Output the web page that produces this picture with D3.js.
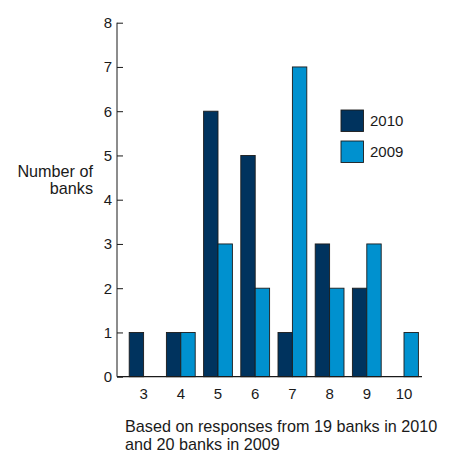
<!DOCTYPE html>
<html>
<head>
<meta charset="utf-8">
<script src="https://cdn.jsdelivr.net/npm/d3@7/dist/d3.min.js"></script>
<style>
  html, body { margin: 0; padding: 0; background: #fff; }
  svg { display: block; font-family: "Liberation Sans", Arial, Helvetica, sans-serif; }
</style>
</head>
<body>
<svg id="chart" width="454" height="454"></svg>
<script>
// Number of banks by score, two survey years
const categories = ["3", "4", "5", "6", "7", "8", "9", "10"];
const values2010 = [1, 1, 6, 5, 1, 3, 2, 0];
const values2009 = [0, 1, 3, 2, 7, 2, 3, 1];
const seriesNames = ["2010", "2009"];
const seriesColors = ["#00335e", "#0091cf"];
const yTicks = [0, 1, 2, 3, 4, 5, 6, 7, 8];

const svg = d3.select("#chart");
const textColor = "#1a1a1a";

const axisLeft = 117, axisRight = 422;
const y = d3.scaleLinear().domain([0, 8]).range([376.7, 22.7]);
const x = d3.scaleBand().domain(categories).range([125, 422.6]).padding(0);
const barW = 14.4;

const series = [values2010, values2009];

// bars
series.forEach((vals, si) => {
  svg.append("g").selectAll("rect")
    .data(categories.map((c, i) => ({ c, v: vals[i] })).filter(d => d.v > 0))
    .join("rect")
    .attr("x", d => x(d.c) + x.bandwidth() / 2 + (si === 0 ? -barW : 0))
    .attr("y", d => y(d.v))
    .attr("width", barW)
    .attr("height", d => y(0) - y(d.v))
    .attr("fill", seriesColors[si])
    .attr("stroke", "#1c1c1c")
    .attr("stroke-width", 0.9);
});

// y axis with inward ticks
const yAxis = d3.axisRight(y).tickValues(yTicks).tickSize(6).tickFormat(d3.format("d"));
const gy = svg.append("g").attr("transform", `translate(${axisLeft},0)`).call(yAxis);
gy.select(".domain").remove();
gy.selectAll(".tick line").attr("stroke", textColor);
gy.selectAll(".tick text")
  .attr("x", -5).attr("text-anchor", "end")
  .attr("font-size", 15).attr("fill", textColor);
svg.append("line")
  .attr("x1", axisLeft).attr("x2", axisLeft)
  .attr("y1", y(8)).attr("y2", y(0))
  .attr("stroke", textColor).attr("stroke-width", 1);

// x axis
svg.append("line")
  .attr("x1", axisLeft).attr("x2", axisRight)
  .attr("y1", y(0)).attr("y2", y(0))
  .attr("stroke", textColor).attr("stroke-width", 1.2);
const xAxis = d3.axisBottom(x).tickSize(0).tickPadding(0);
const gx = svg.append("g").attr("transform", `translate(0,${y(0)})`).call(xAxis);
gx.select(".domain").remove();
gx.selectAll(".tick text")
  .attr("y", 22.5).attr("dy", 0)
  .attr("font-size", 15).attr("fill", textColor);

// y axis title
const yTitle = svg.append("text")
  .attr("text-anchor", "end").attr("font-size", 16.2).attr("fill", textColor);
yTitle.append("tspan").attr("x", 93).attr("y", 176.5).text("Number of");
yTitle.append("tspan").attr("x", 93).attr("y", 194).text("banks");

// legend
const legend = svg.append("g");
seriesNames.forEach((name, i) => {
  const ly = 110 + i * 31;
  legend.append("rect")
    .attr("x", 341).attr("y", ly).attr("width", 22.5).attr("height", 21.5)
    .attr("fill", seriesColors[i]).attr("stroke", "#1c1c1c").attr("stroke-width", 0.9);
  legend.append("text")
    .attr("x", 370).attr("y", ly + 16).attr("font-size", 15).attr("fill", textColor)
    .text(name);
});

// footnote
const note = svg.append("text").attr("font-size", 16.2).attr("fill", textColor);
note.append("tspan").attr("x", 125).attr("y", 432).text("Based on responses from 19 banks in 2010");
note.append("tspan").attr("x", 125).attr("y", 449.5).text("and 20 banks in 2009");
</script>
</body>
</html>
